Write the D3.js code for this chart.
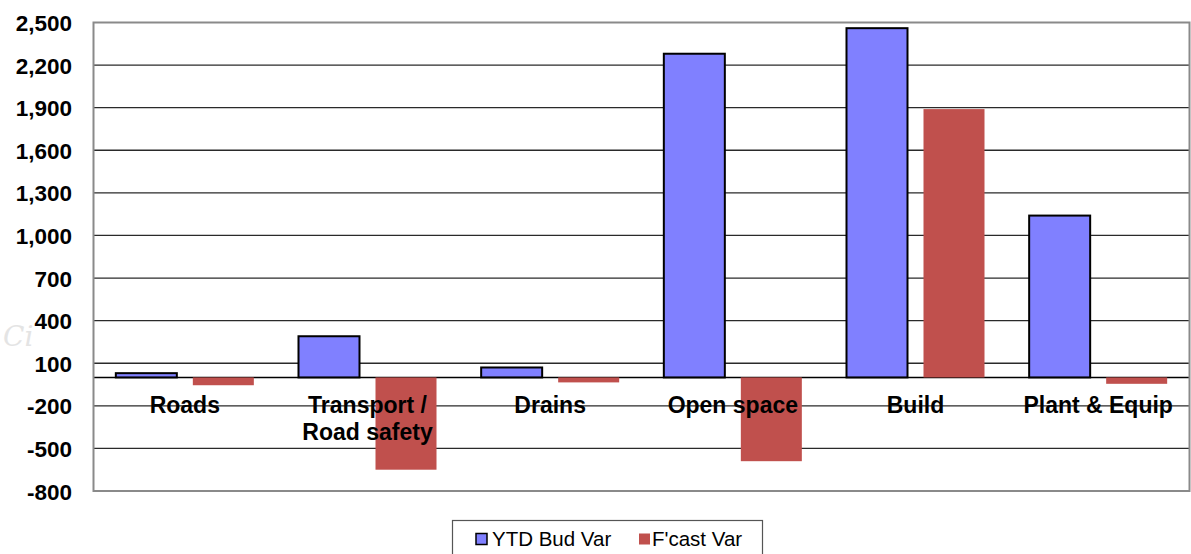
<!DOCTYPE html>
<html>
<head>
<meta charset="utf-8">
<script src="https://cdn.jsdelivr.net/npm/d3@7"></script>
<style>
  html, body { margin: 0; padding: 0; background: #fff; }
  svg { display: block; font-family: "Liberation Sans", Arial, sans-serif; }
</style>
</head>
<body>
<svg id="chart" width="1191" height="554"></svg>
<script>
// ---- data ----
const categories = ["Roads", "Transport / Road safety", "Drains", "Open space", "Build", "Plant & Equip"];
const categoryLines = [["Roads"], ["Transport /", "Road safety"], ["Drains"], ["Open space"], ["Build"], ["Plant & Equip"]];
const seriesNames = ["YTD Bud Var", "F'cast Var"];
const ytdBudVar = [30, 290, 70, 2280, 2460, 1140];
const fcastVar = [-55, -650, -35, -590, 1890, -45];
const yTicks = [-800, -500, -200, 100, 400, 700, 1000, 1300, 1600, 1900, 2200, 2500];
const seriesColors = ["#8080FF", "#C0504D"];

// ---- layout ----
const svg = d3.select("#chart");
const plot = { left: 93.5, right: 1189.5, top: 22.5, bottom: 491 };

const y = d3.scaleLinear().domain([-800, 2500]).range([plot.bottom, plot.top]);
const x = d3.scaleBand().domain(categories).range([plot.left, plot.right]).padding(0);
const xs = d3.scaleBand().domain(seriesNames).range([0, x.bandwidth()])
  .paddingInner(0.2078).paddingOuter(0.29);

const fmt = d3.format(",");
const tickFmt = d => fmt(d).replace("\u2212", "-");

// watermark
svg.append("text")
  .attr("x", 3).attr("y", 346)
  .attr("font-family", "DejaVu Serif, serif")
  .attr("font-style", "italic")
  .attr("font-size", 28)
  .attr("fill", "#e4e4e4")
  .text("Ci");

// gridlines
svg.append("g").selectAll("line")
  .data(yTicks.filter(t => t !== 2500 && t !== -800))
  .join("line")
  .attr("x1", plot.left).attr("x2", plot.right)
  .attr("y1", d => y(d)).attr("y2", d => y(d))
  .attr("stroke", "#2a2a2a").attr("stroke-width", 1.3);

// zero line
svg.append("line")
  .attr("x1", plot.left).attr("x2", plot.right)
  .attr("y1", y(0)).attr("y2", y(0))
  .attr("stroke", "#000").attr("stroke-width", 1.5);

// y axis labels
const yAxis = d3.axisLeft(y).tickValues(yTicks).tickFormat(tickFmt).tickSize(0).tickPadding(0);
const yg = svg.append("g").attr("transform", `translate(${72},0)`).call(yAxis);
yg.select(".domain").remove();
yg.selectAll("text")
  .attr("font-family", "Liberation Sans, Arial, sans-serif")
  .attr("font-size", 22.5)
  .attr("font-weight", "bold")
  .attr("fill", "#000")
  .attr("dy", "0.36em");

// bars
const bars = svg.append("g");
categories.forEach((c, i) => {
  const vals = [ytdBudVar[i], fcastVar[i]];
  vals.forEach((v, s) => {
    const r = bars.append("rect")
      .attr("x", x(c) + xs(seriesNames[s]))
      .attr("width", xs.bandwidth())
      .attr("y", y(Math.max(0, v)))
      .attr("height", Math.abs(y(v) - y(0)))
      .attr("fill", seriesColors[s]);
    if (s === 0) r.attr("stroke", "#000").attr("stroke-width", 2);
  });
});

// plot border
svg.append("rect")
  .attr("x", plot.left).attr("y", plot.top)
  .attr("width", plot.right - plot.left).attr("height", plot.bottom - plot.top)
  .attr("fill", "none").attr("stroke", "#8a8a8a").attr("stroke-width", 2);

// category labels
const labels = svg.append("g");
categories.forEach((c, i) => {
  const t = labels.append("text")
    .attr("x", x(c) + x.bandwidth() / 2)
    .attr("y", 413)
    .attr("text-anchor", "middle")
    .attr("font-size", 23)
    .attr("font-weight", "bold")
    .attr("fill", "#000");
  categoryLines[i].forEach((ln, k) => {
    t.append("tspan").attr("x", x(c) + x.bandwidth() / 2).attr("dy", k === 0 ? 0 : 27).text(ln);
  });
});

// legend
const lg = svg.append("g");
lg.append("rect")
  .attr("x", 452.5).attr("y", 520.5).attr("width", 310).attr("height", 40)
  .attr("fill", "#fff").attr("stroke", "#555").attr("stroke-width", 1.2);
const legendItems = [
  { name: seriesNames[0], color: seriesColors[0], stroke: true, mx: 476, tx: 492 },
  { name: seriesNames[1], color: seriesColors[1], stroke: false, mx: 639, tx: 652 }
];
legendItems.forEach(it => {
  const m = lg.append("rect")
    .attr("x", it.mx).attr("y", 533.5).attr("width", 11).attr("height", 11)
    .attr("fill", it.color);
  if (it.stroke) m.attr("stroke", "#000").attr("stroke-width", 1.5);
  lg.append("text")
    .attr("x", it.tx).attr("y", 545.5)
    .attr("font-size", 20.5)
    .attr("fill", "#000")
    .text(it.name);
});
</script>
</body>
</html>
